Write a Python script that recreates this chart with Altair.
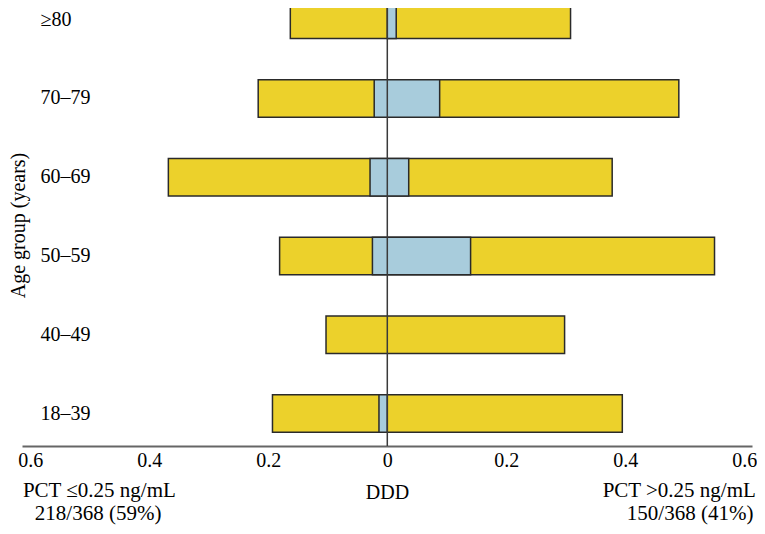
import altair as alt
import pandas as pd

# Age groups (top to bottom)
groups = ["≥80", "70–79", "60–69", "50–59", "40–49", "18–39"]
# Total DDD bar extents (yellow): left side = PCT ≤0.25, right side = PCT >0.25
low_total = [0.163, 0.217, 0.368, 0.181, 0.103, 0.193]
high_total = [0.308, 0.490, 0.378, 0.550, 0.298, 0.395]
# Blue inner portion extents
low_blue = [0.0, 0.022, 0.029, 0.025, 0.0, 0.014]
high_blue = [0.015, 0.088, 0.036, 0.140, 0.0, 0.0]

tick_values = [-0.6, -0.4, -0.2, 0, 0.2, 0.4, 0.6]
left_note = ["PCT ≤0.25 ng/mL", "218/368 (59%)"]
right_note = ["PCT >0.25 ng/mL", "150/368 (41%)"]

FONT = "Liberation Serif"
YELLOW = "#ECD12B"
BLUE = "#A8CCDC"
STROKE = "#2a2a2a"

df = pd.DataFrame({
    "group": groups,
    "yl": [-v for v in low_total],
    "yr": high_total,
    "bl": [-v for v in low_blue],
    "br": high_blue,
})
blue_df = df[(df["bl"] != 0) | (df["br"] != 0)]

x_scale = alt.Scale(domain=[-0.614, 0.613], nice=False, zero=False)
y_scale = alt.Scale(range=[-7, 424.25], paddingInner=0.524, paddingOuter=0)

y_axis = alt.Axis(
    title="Age group (years)", domain=False, ticks=False, tickSize=0, grid=False,
    labelAlign="left", labelPadding=-18, labelBaseline="middle",
    titleAngle=270, titleX=-4, titleY=217, titleAlign="center", titleBaseline="middle",
)
x_axis = alt.Axis(
    title="DDD", values=tick_values, grid=False, ticks=False, tickSize=0,
    labelExpr="datum.value == 0 ? '0' : format(abs(datum.value), '.1f')",
    labelPadding=4, labelFlush=False, labelOverlap=False,
    domainColor="#666666", domainWidth=2,
    titleY=36, titleBaseline="top",
)

yellow = alt.Chart(df).mark_bar(color=YELLOW, stroke=STROKE, strokeWidth=1.5).encode(
    x=alt.X("yl:Q", scale=x_scale, axis=x_axis),
    x2="yr:Q",
    y=alt.Y("group:N", sort=groups, scale=y_scale, axis=y_axis),
)
blue = alt.Chart(blue_df).mark_bar(color=BLUE, stroke=STROKE, strokeWidth=1.5).encode(
    x=alt.X("bl:Q"),
    x2="br:Q",
    y=alt.Y("group:N", sort=groups),
)
zero = alt.Chart(pd.DataFrame({"z": [0]})).mark_rule(color="#3a3a3a", strokeWidth=1.5).encode(
    x="z:Q"
)

one = pd.DataFrame({"a": [0]})


def note(text, xpos, ypix, align):
    return alt.Chart(one).mark_text(
        font=FONT, fontSize=21, color="black", align=align, baseline="middle"
    ).encode(x=alt.datum(xpos), y=alt.value(ypix), text=alt.value(text))


notes = [
    note(left_note[0], -0.484, 483, "center"),
    note(left_note[1], -0.486, 506, "center"),
    note(right_note[0], 0.6195, 483, "right"),
    note(right_note[1], 0.509, 506, "center"),
]

chart = alt.layer(yellow, blue, zero, *notes).properties(
    width=730, height=438,
    padding={"left": 14, "top": 0, "right": 5, "bottom": 79},
    autosize=alt.AutoSizeParams(type="none"),
).configure_view(stroke=None).configure_axis(
    labelFont=FONT, titleFont=FONT, labelFontSize=20, titleFontSize=20,
    labelColor="black", titleColor="black", titleFontWeight="normal",
)

chart.save("out.html", embed_options={"renderer": "svg", "actions": False})
